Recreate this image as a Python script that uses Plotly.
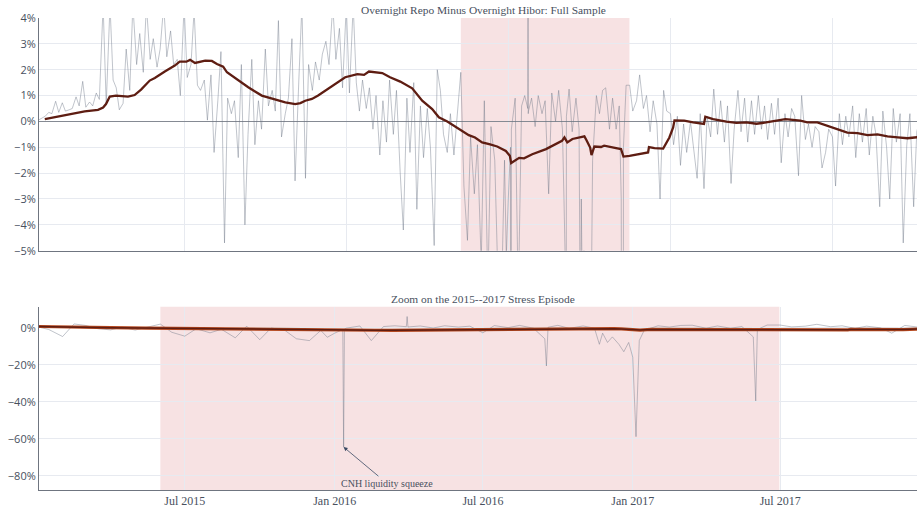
import pandas as pd
import plotly.graph_objects as go

# ---------------- data (percent) ----------------
# Daily spread at the 1st and 15th of each month
spread_2010 = [0.05, 0.12, 0.2, 0.35, 0.3, 0.78, 0.35, 0.72, 0.4, 0.45, 0.5, 0.95, 0.6, 1.55, 0.55, 0.75, 0.6, 1.1, 0.85]
spread_2011 = [4.5, 0.65, 4.5, 1.6, 1.3, 0.45, 0.7, 2.8, 1.2, 4.5, 2.2, 3.4, 1.9, 4.5, 2.4, 3.2, 2.1, 2.8, 4.5, 2.5, 3.5, 2.2, 2.4, 1.0]
spread_2012 = [4.5, 1.7, 2.2, 4.3, 1.4, 1.2, 1.6, 0.05, 1.8, -1.2, 0.8, 2.7, -4.7, 0.9, 0.3, 0.8, -1.4, 2.2, -4.0, -0.5, 2.4, -0.9, 0.8, -0.3]
spread_2013 = [2.8, 0.6, 1.2, 0.4, 3.9, -0.6, 0.3, 0.9, 3.2, -2.3, 1.6, 4.5, -2.2, 2.2, 1.2, 2.3, 1.6, 2.6, 3.1, 2.2, 4.5, 2.4, 3.6, 1.3]
spread_2014 = [4.5, 1.1, 4.5, 1.5, 0.4, 1.6, 0.5, 1.3, -0.3, 1.0, -1.3, 0.8, -0.8, 1.6, -0.5, 1.2, -2.0, -4.2, 0.9, -1.2, 1.5, -3.4, 0.6, -1.4]
spread_2015 = [0.5, -1.0, -4.8, 2.0, 1.2, -0.5, -1.2, 0.3, -1.3, 0.2, 1.9, -2.5, -4.6, -0.6, -2.8, -0.9, -5.5, 0.8, -6.5, -0.2, -1.5, -6.0, -7.0, -1.5]
spread_2016 = [-3.0, -0.3, 0.9, -7.0, 0.6, 1.0, 0.4, 0.9, -0.2, 1.0, 0.3, 0.8, -2.8, 1.1, 0.0, 1.2, -0.3, -6.0, 1.25, -0.4, 0.9, -0.3, -8.0, -9.0]
spread_2017 = [-16.0, -1.5, 1.0, 0.3, 1.2, 1.3, -0.3, 0.9, -0.3, 0.6, -39.6, 1.4, 1.4, 0.4, 0.8, 1.8, 0.5, 1.0, -0.4, 0.8, -0.1, -3.0, 1.2, 0.4]
spread_2018 = [0.3, -0.9, 0.2, -1.7, -0.1, -1.2, 0.0, -1.0, -2.2, 0.3, -2.6, 0.2, -0.6, 1.25, -0.5, 0.8, -0.8, 0.6, -2.4, -0.3, 1.2, -0.4, 0.9, -0.8]
spread_2019 = [0.8, -0.5, 1.0, -0.3, 0.6, -0.7, 0.7, -0.5, 0.9, -1.6, 0.3, -0.6, 0.5, 0.2, -2.1, 1.0, -0.7, -0.1, -1.0, -0.2, -0.4, -1.8, -1.2, -0.3]
spread_2020 = [-0.6, -2.5, 0.3, -0.9, 0.2, -0.6, 0.6, -1.4, 0.3, -0.8, 0.5, -1.3, 0.2, -0.5, -3.3, 0.4, -1.0, -3.0, 0.5, -0.8, 0.3, -4.7, -0.9, 0.3]
spread_2021 = [-3.3, -0.4, 0.2]

# Individual stress days between the semi-monthly readings
event_dates = ["2015-12-23", "2016-01-11", "2016-01-12", "2016-01-13", "2016-03-29", "2016-03-30",
               "2016-03-31", "2016-09-08", "2016-09-17", "2016-09-19", "2016-11-21", "2016-11-25",
               "2016-12-07", "2016-12-21", "2016-12-27", "2017-01-05", "2017-01-09", "2017-05-24",
               "2017-05-29", "2017-06-03"]
event_values = [-5.2, -1.0, -64.5, -0.8, 0.5, 6.0,
                0.3, -3.0, -20.7, 0.2, -9.0, -3.0,
                -5.0, -13.0, -8.0, -58.9, -7.0, -3.0,
                -5.0, -1.0]

# Smoothed spread
smooth_dates = ["2010-04-13", "2010-06-12", "2010-07-27", "2010-10-10", "2010-12-09", "2011-01-01", "2011-01-14",
                "2011-01-31", "2011-02-28", "2011-04-23", "2011-05-23", "2011-06-21", "2011-07-30", "2011-08-22",
                "2011-10-06", "2011-11-20", "2011-12-12", "2012-01-11", "2012-01-28", "2012-02-19", "2012-04-05",
                "2012-05-05", "2012-05-28", "2012-06-25", "2012-07-12", "2012-09-01", "2012-10-16", "2012-12-16",
                "2013-01-31", "2013-04-01", "2013-05-16", "2013-06-08", "2013-06-30", "2013-07-30", "2013-08-27",
                "2013-10-12", "2013-11-12", "2013-12-27", "2014-02-20", "2014-03-22", "2014-04-13", "2014-06-12",
                "2014-07-17", "2014-09-01", "2014-10-25", "2014-12-09", "2015-01-23", "2015-02-22", "2015-04-01",
                "2015-05-16", "2015-07-07", "2015-08-04", "2015-09-05", "2015-10-07", "2015-11-12", "2015-12-21",
                "2016-01-08", "2016-01-14", "2016-02-19", "2016-03-12", "2016-04-18", "2016-06-19", "2016-07-27",
                "2016-08-30", "2016-09-10", "2016-09-23", "2016-10-16", "2016-12-09", "2016-12-18", "2017-01-04",
                "2017-01-10", "2017-01-23", "2017-02-22", "2017-03-08", "2017-05-01", "2017-05-23", "2017-06-03",
                "2017-06-30", "2017-09-22", "2017-09-26", "2017-10-21", "2017-11-29", "2017-12-27", "2018-01-13",
                "2018-01-19", "2018-03-04", "2018-04-13", "2018-06-01", "2018-06-07", "2018-07-12", "2018-09-10",
                "2018-10-25", "2018-12-09", "2019-01-23", "2019-03-08", "2019-04-23", "2019-06-03", "2019-08-09",
                "2019-09-10", "2019-10-25", "2019-12-09", "2020-01-23", "2020-03-08", "2020-04-23", "2020-06-07",
                "2020-07-22", "2020-09-05", "2020-10-21", "2020-12-04", "2021-01-18"]
smooth_values = [0.09, 0.19, 0.28, 0.39, 0.45, 0.54, 0.67,
                 0.96, 1.0, 0.96, 1.02, 1.23, 1.58, 1.68,
                 1.93, 2.16, 2.31, 2.31, 2.38, 2.26, 2.35,
                 2.34, 2.22, 2.12, 1.9, 1.58, 1.32, 1.0,
                 0.89, 0.74, 0.67, 0.71, 0.8, 0.87, 1.0,
                 1.28, 1.47, 1.71, 1.83, 1.8, 1.93, 1.87,
                 1.71, 1.54, 1.28, 0.8, 0.48, 0.16, 0.0,
                 -0.23, -0.53, -0.62, -0.81, -0.88, -0.97, -1.14,
                 -1.33, -1.61, -1.41, -1.43, -1.27, -1.07, -0.89,
                 -0.75, -0.62, -0.81, -0.68, -0.58, -0.72, -1.01,
                 -1.30, -0.97, -0.99, -0.94, -1.03, -1.07, -1.36,
                 -1.33, -1.2, -0.99, -1.03, -1.05, -0.62, -0.23,
                 0.04, 0.03, -0.04, -0.1, 0.18, 0.09, -0.01,
                 -0.06, -0.04, -0.09, -0.04, 0.03, 0.09, 0.03,
                 -0.04, -0.04, -0.17, -0.3, -0.43, -0.45, -0.53,
                 -0.5, -0.58, -0.62, -0.65, -0.61]

stress_start, stress_end = "2015-06-01", "2017-06-30"
top_title = "Overnight Repo Minus Overnight Hibor: Full Sample"
bottom_title = "Zoom on the 2015--2017 Stress Episode"
note_text = "CNH liquidity squeeze"
note_date, note_value = "2016-01-12", -64.5
top_ticks = [-5, -4, -3, -2, -1, 0, 1, 2, 3, 4]
bottom_ticks = [-80, -60, -40, -20, 0]

# ---------------- assemble daily series ----------------
grid = pd.date_range("2010-03-15", "2021-02-01", freq="SMS")
grid_vals = (spread_2010 + spread_2011 + spread_2012 + spread_2013 + spread_2014 + spread_2015 +
             spread_2016 + spread_2017 + spread_2018 + spread_2019 + spread_2020 + spread_2021)
s = pd.Series(grid_vals, index=grid[:len(grid_vals)])
ev = pd.Series(event_values, index=pd.to_datetime(event_dates))
s = pd.concat([s[~s.index.isin(ev.index)], ev]).sort_index()


def pct_label(v):
    return ("\u2212" if v < 0 else "") + f"{abs(v)}%"


GRAY = "rgba(105,115,132,0.42)"
DARK = "#5e1d12"
ORANGE = "#b4481f"
SHADE = "rgba(200,60,70,0.15)"
GRID = "#e7eaf0"
AXIS = "#6f7580"
SERIF = "Liberation Serif, Times New Roman, serif"
SANS = "Open Sans, Liberation Sans, sans-serif"
TXT = "#48505e"

fig = go.Figure()
fig.add_trace(go.Scatter(x=s.index, y=s.values, mode="lines", line=dict(color=GRAY, width=1),
                         xaxis="x", yaxis="y", showlegend=False, hoverinfo="skip"))
fig.add_trace(go.Scatter(x=pd.to_datetime(smooth_dates), y=smooth_values, mode="lines",
                         line=dict(color=DARK, width=2.3), xaxis="x", yaxis="y", showlegend=False))
fig.add_trace(go.Scatter(x=s.index, y=s.values, mode="lines", line=dict(color=GRAY, width=1),
                         xaxis="x2", yaxis="y2", showlegend=False, hoverinfo="skip"))
fig.add_trace(go.Scatter(x=pd.to_datetime(smooth_dates), y=smooth_values, mode="lines",
                         line=dict(color=ORANGE, width=3.2), xaxis="x2", yaxis="y2", showlegend=False))
fig.add_trace(go.Scatter(x=pd.to_datetime(smooth_dates), y=smooth_values, mode="lines",
                         line=dict(color=DARK, width=1.5), xaxis="x2", yaxis="y2", showlegend=False))

for xr in ("x", "x2"):
    fig.add_shape(type="rect", xref=xr, yref=("y" if xr == "x" else "y2") + " domain",
                  x0=stress_start, x1=stress_end, y0=0, y1=1,
                  fillcolor=SHADE, line=dict(width=0), layer="below")

common = dict(showgrid=True, gridcolor=GRID, gridwidth=1, showline=True, linecolor=AXIS,
              linewidth=1, ticks="")
fig.update_layout(
    width=917, height=510,
    margin=dict(l=39, r=0, t=18, b=20),
    paper_bgcolor="white", plot_bgcolor="white",
    font=dict(family=SERIF, size=12, color=TXT),
    showlegend=False,
    xaxis=dict(domain=[0, 1], anchor="y", type="date", range=["2010-03-18", "2021-01-16"],
               tick0="2012-01-01", dtick="M24", showticklabels=False, zeroline=False, **common),
    yaxis=dict(domain=[0.507, 1], anchor="x", range=[-5, 4],
               tickmode="array", tickvals=top_ticks, ticktext=[pct_label(v) for v in top_ticks],
               tickfont=dict(family=SANS, size=11, color=TXT),
               zeroline=True, zerolinecolor="#858a93", zerolinewidth=1, **common),
    xaxis2=dict(domain=[0, 1], anchor="y2", type="date", range=["2015-01-03", "2017-12-16"],
                tick0="2015-01-01", dtick="M6", tickformat="%b %Y", zeroline=False,
                tickfont=dict(family=SERIF, size=12, color=TXT), **common),
    yaxis2=dict(domain=[0, 0.3883], anchor="x2", range=[-87.7, 11.3],
                tickmode="array", tickvals=bottom_ticks, ticktext=[pct_label(v) for v in bottom_ticks],
                tickfont=dict(family=SANS, size=11, color=TXT), zeroline=False, **common),
)

fig.add_annotation(text=top_title, xref="paper", yref="paper", x=0.5057, y=1.017,
                   xanchor="center", yanchor="middle", showarrow=False,
                   font=dict(family=SERIF, size=11.4, color=TXT))
fig.add_annotation(text=bottom_title, xref="paper", yref="paper", x=0.5057, y=0.4047,
                   xanchor="center", yanchor="middle", showarrow=False,
                   font=dict(family=SERIF, size=11.4, color=TXT))
fig.add_annotation(text=note_text, x=note_date, y=note_value, xref="x2", yref="y2",
                   ax="2016-03-05", ay=-84, axref="x2", ayref="y2",
                   showarrow=True, arrowhead=2, arrowsize=1, arrowwidth=0.8, arrowcolor="#3b4a63",
                   font=dict(family=SERIF, size=10, color=TXT))

fig.write_html("out.html", config={"displayModeBar": False},
               post_script="document.body.style.margin='0';document.body.style.overflow='hidden';")
